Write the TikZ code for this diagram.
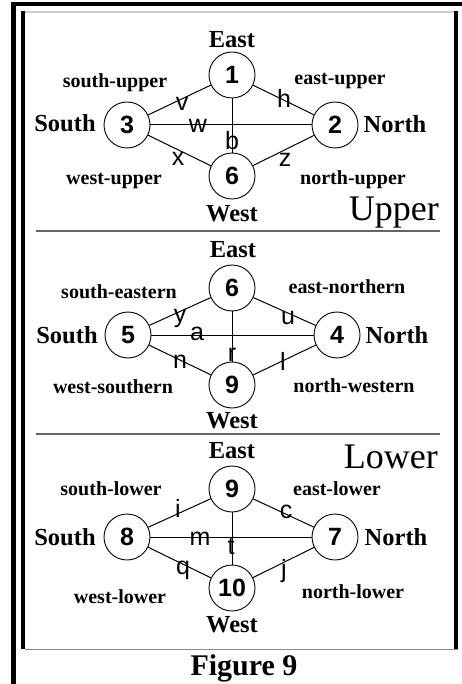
\documentclass[tikz,border=0pt]{standalone}
\usepackage{fontspec}
\setmainfont{Liberation Serif}
\newfontfamily\digitfont{Liberation Sans}
\begin{document}
\begin{tikzpicture}[x=1pt,y=-1pt,
  vtx/.style={circle,draw,line width=0.9pt,minimum size=46pt,inner sep=0pt,
    font=\digitfont\bfseries\fontsize{25}{25}\selectfont},
  dirlab/.style={anchor=base,inner sep=0pt,font=\bfseries\fontsize{24.5}{24.5}\selectfont},
  sublab/.style={anchor=base,inner sep=0pt,font=\bfseries\fontsize{20}{20}\selectfont},
  elab/.style={inner sep=0pt,font=\digitfont\fontsize{25}{25}\selectfont},
  sectlab/.style={anchor=base east,inner sep=0pt,font=\fontsize{36}{36}\selectfont},
  edge/.style={line width=1pt},
  sep/.style={draw=black!60,line width=1.3pt}]

% page and frame
\fill[white] (0,0) rectangle (462,684);
\fill[black] (11,2) rectangle (16,684);
\fill[black] (11,2) rectangle (462,6);
\fill[black!20] (25,11) rectangle (454,13);
\fill[black] (21,11) rectangle (25,649);
\fill[black] (454,11) rectangle (458,649);
\draw[black!45,line width=1pt] (25,649) -- (458,649);
\draw[sep] (36,231) -- (440,231);
\draw[sep] (36,434) -- (440,434);

% ---------- upper block ----------
\node[vtx] (n1) at (232,75) {1};
\node[vtx] (n3) at (127,125) {3};
\node[vtx] (n2) at (335,125) {2};
\node[vtx] (n6) at (232,176) {6};
\draw[edge] (n3) -- (n1);
\draw[edge] (n1) -- (n2);
\draw[edge] (n3) -- (n2);
\draw[edge] (n1) -- (n6);
\draw[edge] (n3) -- (n6);
\draw[edge] (n6) -- (n2);
\node[dirlab] (ue) at (232,48) {East};
\node[dirlab] (us) at (65,132) {South};
\node[dirlab] (un) at (395,133) {North};
\node[dirlab] (uw) at (232,222) {West};
\node[sublab] (usu) at (115,88) {south-upper};
\node[sublab] (ueu) at (340,85) {east-upper};
\node[sublab] (uwu) at (114,185) {west-upper};
\node[sublab] (unu) at (353,185) {north-upper};
\node[elab] (lv) at (182,104) {v};
\node[elab] (lh) at (284,98) {h};
\node[elab] (lw) at (198,126) {w};
\node[elab] (lb) at (232,141) {b};
\node[elab] (lx) at (178,159) {x};
\node[elab] (lz) at (285,160) {z};
\node[sectlab] (upper) at (439,221) {Upper};

% ---------- middle block ----------
\node[vtx] (m6) at (232,288) {6};
\node[vtx] (m5) at (128,335) {5};
\node[vtx] (m4) at (337,335) {4};
\node[vtx] (m9) at (232,385) {9};
\draw[edge] (m5) -- (m6);
\draw[edge] (m6) -- (m4);
\draw[edge] (m5) -- (m4);
\draw[edge] (m6) -- (m9);
\draw[edge] (m5) -- (m9);
\draw[edge] (m9) -- (m4);
\node[dirlab] (me) at (233,258) {East};
\node[dirlab] (ms) at (67,343) {South};
\node[dirlab] (mn) at (397,343) {North};
\node[dirlab] (mw) at (232,428) {West};
\node[sublab] (mse) at (119,298) {south-eastern};
\node[sublab] (men) at (347,293) {east-northern};
\node[sublab] (mws) at (113,393) {west-southern};
\node[sublab] (mnw) at (354,392) {north-western};
\node[elab] (ly) at (180,318) {y};
\node[elab] (la) at (197,334) {a};
\node[elab] (lu) at (288,318) {u};
\node[elab] (lr) at (232,355) {r};
\node[elab] (ln) at (180,362) {n};
\node[elab] (ll) at (283,361) {l};

% ---------- lower block ----------
\node[vtx] (l9) at (232,489) {9};
\node[vtx] (l8) at (127,537) {8};
\node[vtx] (l7) at (335,537) {7};
\node[vtx] (l10) at (232,588) {10};
\draw[edge] (l8) -- (l9);
\draw[edge] (l9) -- (l7);
\draw[edge] (l8) -- (l7);
\draw[edge] (l9) -- (l10);
\draw[edge] (l8) -- (l10);
\draw[edge] (l10) -- (l7);
\node[dirlab] (le) at (232,458) {East};
\node[dirlab] (ls) at (65,545) {South};
\node[dirlab] (lnn) at (396,545) {North};
\node[dirlab] (lww) at (232,632) {West};
\node[sublab] (lsl) at (111,495) {south-lower};
\node[sublab] (lel) at (337,495) {east-lower};
\node[sublab] (lwl) at (120,603) {west-lower};
\node[sublab] (lnl) at (353,598) {north-lower};
\node[elab] (li) at (178,508) {i};
\node[elab] (lc) at (286,512) {c};
\node[elab] (lm) at (200,539) {m};
\node[elab] (lt) at (231,547) {t};
\node[elab] (lq) at (183,570) {q};
\node[elab] (lj) at (284,571) {j};
\node[sectlab] (lower) at (438,468) {Lower};

% caption
\node[anchor=base,inner sep=0pt,font=\bfseries\fontsize{30}{30}\selectfont] (cap) at (244,675) {Figure 9};
\end{tikzpicture}
\end{document}
